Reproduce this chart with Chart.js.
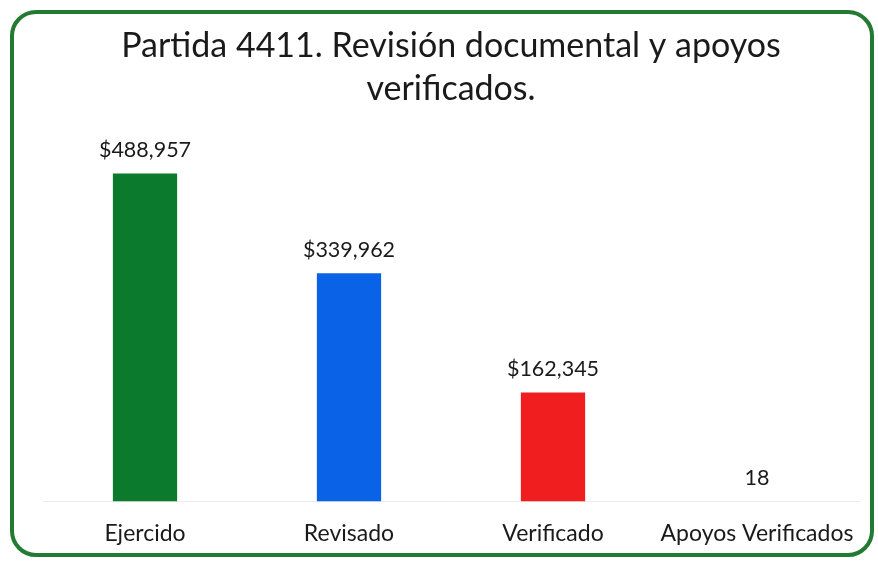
<!DOCTYPE html>
<html>
<head>
<meta charset="utf-8">
<script src="https://cdn.jsdelivr.net/npm/chart.js@4"></script>
<style>
  html, body { margin: 0; padding: 0; background: #fff; }
  #frame {
    position: absolute; left: 10px; top: 10px;
    width: 856px; height: 539px;
    border: 4px solid #237a32; border-radius: 26px;
    background: #fff;
  }
  #chart { position: absolute; left: 0; top: 0; display: block; }
</style>
</head>
<body>
<div id="frame"><canvas id="chart" width="856" height="543"></canvas></div>
<script>
// Datos del grafico
const categories = ['Ejercido', 'Revisado', 'Verificado', 'Apoyos Verificados'];
const values = [488957, 339962, 162345, 18];
const isMoney = [true, true, true, false];
const barColors = ['#0c7a2c', '#0a63e6', '#f01e1e', '#ffffff'];
const titleLines = ['Partida 4411. Revisión documental y apoyos', 'verificados.'];

const fontName = 'Lato, "Noto Sans", sans-serif';

function formatValue(v, i) {
  const s = v.toLocaleString('en-US');
  return isMoney[i] ? '$' + s : s;
}

// Etiquetas encima de cada barra
const valueLabels = {
  id: 'valueLabels',
  afterDatasetsDraw(chart) {
    const {ctx} = chart;
    const meta = chart.getDatasetMeta(0);
    ctx.save();
    ctx.font = '21.5px ' + fontName;
    ctx.fillStyle = '#1a1a1a';
    ctx.textAlign = 'center';
    ctx.textBaseline = 'bottom';
    meta.data.forEach((bar, i) => {
      ctx.fillText(formatValue(values[i], i), bar.x, bar.y - 13);
    });
    ctx.restore();
  }
};

new Chart(document.getElementById('chart').getContext('2d'), {
  type: 'bar',
  data: {
    labels: categories,
    datasets: [{
      data: values,
      backgroundColor: barColors,
      borderWidth: 0,
      barPercentage: 0.63,
      categoryPercentage: 0.5
    }]
  },
  options: {
    responsive: false,
    animation: false,
    layout: {padding: {left: 29, right: 11, top: 0, bottom: 0}},
    plugins: {
      legend: {display: false},
      tooltip: {enabled: false},
      title: {
        display: true,
        text: titleLines,
        color: '#1a1a1a',
        font: {family: fontName, size: 34, weight: 'normal', lineHeight: 1.27},
        padding: {top: 10, bottom: 0}
      }
    },
    scales: {
      x: {
        grid: {display: false},
        border: {color: '#ececec'},
        ticks: {color: '#1a1a1a', font: {family: fontName, size: 23}, padding: 10, maxRotation: 0}
      },
      y: {
        display: false,
        min: 0,
        max: 583000
      }
    }
  },
  plugins: [valueLabels]
});
</script>
</body>
</html>
